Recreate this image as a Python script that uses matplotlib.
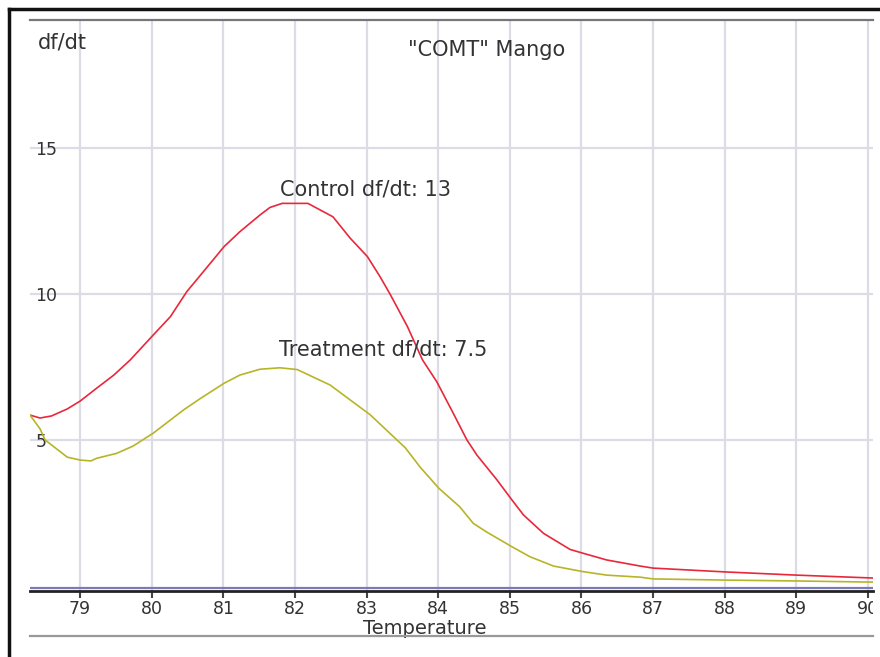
import matplotlib
matplotlib.use("Agg")
import matplotlib.pyplot as plt
from matplotlib.lines import Line2D
from matplotlib.transforms import Bbox, TransformedBbox

plt.rcParams['font.family'] = ['DejaVu Sans']

# Data
temp_control = [78.30, 78.44, 78.60, 78.82, 79.00, 79.23, 79.47, 79.70, 80.02, 80.26,
                80.49, 80.72, 81.01, 81.23, 81.51, 81.65, 81.82, 82.18, 82.53, 82.77,
                83.01, 83.19, 83.33, 83.57, 83.78, 83.98, 84.21, 84.40, 84.54, 84.82,
                85.03, 85.19, 85.47, 85.84, 86.02, 86.35, 86.82, 87.00, 88.00, 89.00,
                90.07]
control = [5.87, 5.77, 5.84, 6.08, 6.35, 6.79, 7.24, 7.76, 8.61, 9.24,
           10.10, 10.78, 11.64, 12.15, 12.72, 12.98, 13.12, 13.12, 12.66, 11.93,
           11.30, 10.60, 10.00, 8.90, 7.76, 7.01, 5.93, 5.02, 4.50, 3.65,
           2.96, 2.45, 1.82, 1.27, 1.14, 0.91, 0.70, 0.63, 0.50, 0.39,
           0.29]

temp_treat = [78.30, 78.44, 78.51, 78.82, 79.00, 79.15, 79.23, 79.51, 79.74, 80.02,
              80.26, 80.44, 80.68, 81.01, 81.23, 81.51, 81.79, 82.03, 82.49, 83.05,
              83.54, 83.75, 84.01, 84.30, 84.49, 84.68, 85.03, 85.28, 85.61, 86.02,
              86.35, 86.82, 87.00, 88.00, 89.00, 90.07]
treatment = [5.87, 5.40, 5.02, 4.43, 4.33, 4.30, 4.39, 4.56, 4.81, 5.25,
             5.70, 6.04, 6.44, 6.96, 7.24, 7.44, 7.49, 7.43, 6.90, 5.88,
             4.75, 4.08, 3.36, 2.73, 2.16, 1.86, 1.36, 1.02, 0.70, 0.51,
             0.39, 0.32, 0.26, 0.22, 0.19, 0.15]

x_ticks = [79, 80, 81, 82, 83, 84, 85, 86, 87, 88, 89, 90]
y_ticks = [5, 10, 15]
y_tick_labels = ['5', '10', '15']

W, H = 880, 657
fig = plt.figure(figsize=(W / 100, H / 100), dpi=100)
fig.patch.set_facecolor('white')

left, right, top, bottom = 30, 873, 20, 591
ax = fig.add_axes([left / W, 1 - bottom / H, (right - left) / W, (bottom - top) / H])
ax.set_xlim(78.30, 90.07)
ax.set_ylim(-0.154, 19.40)

grid_col = '#dcdce6'
ax.set_xticks(x_ticks)
ax.set_yticks(y_ticks)
ax.set_yticklabels(y_tick_labels)
ax.grid(True, color=grid_col, linewidth=1.6)
ax.set_axisbelow(True)

txt_col = '#333333'
ax.tick_params(axis='x', direction='out', length=5, width=1.5, color='#444444',
               labelsize=12.5, labelcolor=txt_col, pad=1.5)
ax.tick_params(axis='y', length=0, labelsize=12.5, labelcolor=txt_col, pad=-4)
for lab in ax.get_yticklabels():
    lab.set_horizontalalignment('left')

# the reference cuts the last x label at the plot's right edge
clip = TransformedBbox(Bbox.from_extents(0, 0, right / W, 1), fig.transFigure)
for lab in ax.get_xticklabels():
    lab.set_clip_box(clip)
    lab.set_clip_on(True)

for s in ['left', 'right']:
    ax.spines[s].set_visible(False)
ax.spines['top'].set_color('#777777')
ax.spines['top'].set_linewidth(1.6)
ax.spines['bottom'].set_color('#222222')
ax.spines['bottom'].set_linewidth(2.0)

ax.axhline(-0.05, color='#7a7ab8', linewidth=1.6, zorder=2)

ax.plot(temp_control, control, color='#e8283a', linewidth=1.2, zorder=3)
ax.plot(temp_treat, treatment, color='#b8b428', linewidth=1.2, zorder=3)

fs = 15
ax.text(81.79, 13.6, 'Control df/dt: 13', fontsize=fs, color=txt_col,
        ha='left', va='center')
ax.text(81.77, 8.13, 'Treatment df/dt: 7.5', fontsize=fs, color=txt_col,
        ha='left', va='center')

ax.text((487 - left) / (right - left), 1 - (50 - top) / (bottom - top), '"COMT" Mango',
        transform=ax.transAxes, fontsize=fs, color=txt_col, ha='center', va='center')
ax.text((38 - left) / (right - left), 1 - (42 - top) / (bottom - top), 'df/dt',
        transform=ax.transAxes, fontsize=fs, color=txt_col, ha='left', va='center')
ax.text((425 - left) / (right - left), 1 - (629 - top) / (bottom - top), 'Temperature',
        transform=ax.transAxes, fontsize=14, color=txt_col, ha='center', va='center',
        clip_on=False)

# bottom gray line
fig.add_artist(Line2D([left / W, right / W], [1 - 636 / H, 1 - 636 / H],
                      color='#999999', linewidth=1.6))
# outer black frame (left and top)
fig.add_artist(Line2D([9 / W, 9 / W], [0, 1 - 9 / H], color='#111111', linewidth=2.5))
fig.add_artist(Line2D([9 / W, 1], [1 - 9 / H, 1 - 9 / H], color='#111111', linewidth=2.5))

fig.savefig('out.png', dpi=100, facecolor='white')
